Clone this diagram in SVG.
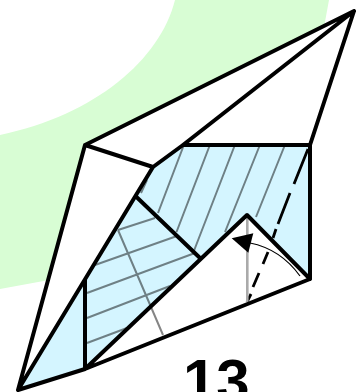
<svg xmlns="http://www.w3.org/2000/svg" width="360" height="392" viewBox="0 0 360 392">
<defs><style>
.o{fill:none;stroke:#000;stroke-width:4;stroke-linejoin:round;stroke-linecap:round}
.h{fill:none;stroke:#000;stroke-opacity:.48;stroke-width:2}
.w{fill:#fff}
.b{fill:#d4f5ff}
</style></defs>
<g id="background">
<path d="M175 0C160 60 95 115 0 135V289L60 278L322 38L329 0Z" fill="#d8fdd4"/>
</g>
<g id="paper">
<path class="w" d="M354 11L85 145L18 390L85 370L310 279V145Z"/>
<path class="b" d="M153 167L183 145H310V279L247 214L85 370L18 390L85 280Z"/>
<path class="w" d="M85 370L247 214L310 279Z"/>
</g>
<g id="connectors">
<path class="h" d="M141 193L147 180M183.500 146L158 213M209.500 146L176.500 232M234.500 146L193.500 252M259.500 146L225 232M284.500 146L256 217"/>
<path class="h" d="M118 230L155 218M95 265L177 236M87 293L195 253M87 318L170 286M87 343L127 328M118 230L163 335"/>
<path fill="none" stroke="#000" stroke-width="2.800" d="M308 149L294 184M290 193L278 224M276 229L273 238M268 252L263 264M259 273L253 287M251 294L247 302"/>
<path fill="none" stroke="#aaa" stroke-width="2.600" d="M247.300 217V302"/>
<path fill="none" stroke="#000" stroke-width="1.200" d="M300 276C287 258 270 247 250 243"/>
<path d="M231.700 238.300L253.300 233.300L248.300 252.700Z"/>
<path class="o" d="M354 11L85 145L18 390L153 167L183 145L354 11L310 145H183M85 145L153 167M136.500 197L200 258M85 280V369M18 390L85 369L310 279V145M310 279L247 215L85 369"/>
</g>
<text id="label" x="183" y="401" font-family="Liberation Sans, sans-serif" font-weight="700" font-size="60">13</text>
</svg>
